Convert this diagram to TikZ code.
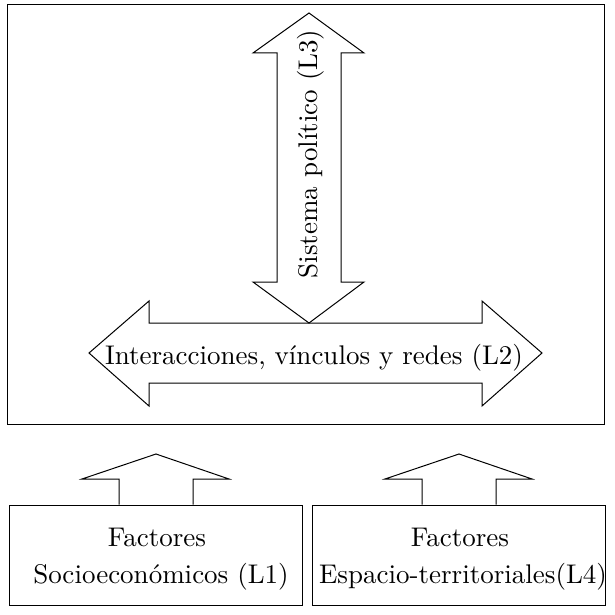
\documentclass[tikz,border=0pt]{standalone}
\usepackage{fontspec}
\begin{document}
\begin{tikzpicture}[x=1pt,y=-1pt,line width=1pt,line join=miter,
  lbl/.style={inner sep=0pt,anchor=base,scale=2.7,transform shape,font=\fontsize{10}{12}\selectfont},
  frame/.style={draw,inner sep=0pt,rectangle},
  arrowshape/.style={draw,line width=1pt}]
\useasboundingbox (0,0) rectangle (614,615);
% outer frame
\node[frame,minimum width=597pt,minimum height=420pt] (outer) at (306,214.5) {};
% vertical double arrow (L3)
\draw[arrowshape] (309,13) -- (364,53) -- (341,53) -- (341,282) -- (364,282) -- (309,323)
  -- (253,282) -- (277,282) -- (277,53) -- (253,53) -- cycle;
% horizontal double arrow (L2)
\draw[arrowshape] (89,353) -- (149,301) -- (149,323) -- (482,323) -- (482,301) -- (542,353)
  -- (482,406) -- (482,383) -- (149,383) -- (149,406) -- cycle;
\node[lbl,rotate=90] (l3) at (317,154) {Sistema político (L3)};
\node[lbl] (l2) at (314,364) {Interacciones, vínculos y redes (L2)};
% bottom boxes
\node[frame,minimum width=293pt,minimum height=100pt] (b1) at (155.5,555) {};
\node[frame,minimum width=293pt,minimum height=100pt] (b4) at (458.5,555) {};
% up arrows
\draw[arrowshape] (b1.north -| 193,0) -- (193,479) -- (229,479) -- (156,454) -- (82,479) -- (119,479) -- (b1.north -| 119,0);
\draw[arrowshape] (b4.north -| 496,0) -- (496,479) -- (532,479) -- (459,454) -- (385,479) -- (422,479) -- (b4.north -| 422,0);
\node[lbl] (f1) at (157,546) {Factores};
\node[lbl] (s1) at (161,583) {Socioeconómicos (L1)};
\node[lbl] (f4) at (460,546) {Factores};
\node[lbl] (s4) at (463,583) {Espacio-territoriales(L4)};
\end{tikzpicture}
\end{document}
